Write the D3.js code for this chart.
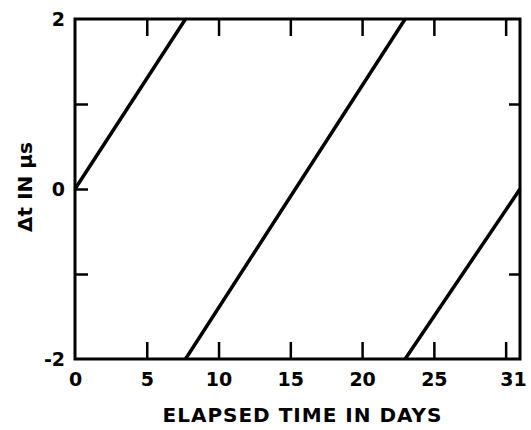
<!DOCTYPE html>
<html>
<head>
<meta charset="utf-8">
<script src="https://cdn.jsdelivr.net/npm/d3@7"></script>
<style>
  body { margin: 0; background: #fff; }
  text { font-family: "DejaVu Sans", sans-serif; font-weight: bold; fill: #000; }
</style>
</head>
<body>
<div id="chart"></div>
<script>
var w = 531;
var h = 430;

// data
var segDays = [[0, 7.7], [7.7, 23.0], [23.0, 31]];
var segDt = [[0, 2], [-2, 2], [-2, 0]];
var xTickMarks = [5, 10, 15, 20, 25, 30];
var xTickLabels = [0, 5, 10, 15, 20, 25, 31];
var yTickMarksLeft = [-1, 0, 1];
var yTickMarksRight = [-1, 1];
var yTickLabels = [-2, 0, 2];
var xTitle = "ELAPSED TIME IN DAYS";
var yTitle = "\u0394t IN \u03bcs";

var margin = {top: 19, right: 11, bottom: 71, left: 75},
    width = w - margin.left - margin.right,
    height = h - margin.top - margin.bottom;

var x = d3.scaleLinear().domain([0, 31]).range([0, width]);
var y = d3.scaleLinear().domain([-2, 2]).range([height, 0]);

var svg = d3.select("#chart")
    .append("svg")
    .attr("width", w)
    .attr("height", h)
    .append("g")
    .attr("transform", "translate(" + margin.left + "," + margin.top + ")");

// inward tick marks on all four sides
function ticksOnly(g) {
    g.select(".domain").remove();
    g.selectAll(".tick line").attr("stroke", "#000").attr("stroke-width", 2.5);
}

svg.append("g")
    .attr("transform", "translate(0," + height + ")")
    .call(d3.axisBottom(x).tickValues(xTickMarks).tickSizeInner(-17).tickSizeOuter(0).tickFormat(""))
    .call(ticksOnly);

svg.append("g")
    .call(d3.axisTop(x).tickValues(xTickMarks).tickSizeInner(-17).tickSizeOuter(0).tickFormat(""))
    .call(ticksOnly);

svg.append("g")
    .call(d3.axisLeft(y).tickValues(yTickMarksLeft).tickSizeInner(-13).tickSizeOuter(0).tickFormat(""))
    .call(ticksOnly);

svg.append("g")
    .attr("transform", "translate(" + width + ",0)")
    .call(d3.axisRight(y).tickValues(yTickMarksRight).tickSizeInner(-11).tickSizeOuter(0).tickFormat(""))
    .call(ticksOnly);

// tick labels
var xLab = svg.append("g")
    .attr("transform", "translate(0," + height + ")")
    .call(d3.axisBottom(x).tickValues(xTickLabels).tickSize(0).tickPadding(14).tickFormat(function(d) { return String(d); }));
xLab.select(".domain").remove();
xLab.selectAll("text").style("font-size", "19px").attr("font-family", null)
    .attr("dx", function(d) { return d === 31 ? -7 : 0; });

var yLab = svg.append("g")
    .call(d3.axisLeft(y).tickValues(yTickLabels).tickSize(0).tickPadding(10).tickFormat(function(d) { return String(d); }));
yLab.select(".domain").remove();
yLab.selectAll("text").style("font-size", "19px").attr("font-family", null);

// frame
svg.append("rect")
    .attr("width", width)
    .attr("height", height)
    .attr("fill", "none")
    .attr("stroke", "#000")
    .attr("stroke-width", 3);

// sawtooth segments
var line = d3.line()
    .x(function(d) { return x(d[0]); })
    .y(function(d) { return y(d[1]); });

var segs = segDays.map(function(dd, i) {
    return [[dd[0], segDt[i][0]], [dd[1], segDt[i][1]]];
});

svg.selectAll(".seg")
    .data(segs)
    .enter().append("path")
    .attr("class", "seg")
    .attr("d", line)
    .attr("fill", "none")
    .attr("stroke", "#000")
    .attr("stroke-width", 3.5);

// axis titles
svg.append("text")
    .attr("x", width / 2 + 5)
    .attr("y", height + 63)
    .attr("text-anchor", "middle")
    .style("font-size", "20px")
    .style("letter-spacing", "1px")
    .text(xTitle);

svg.append("text")
    .attr("transform", "translate(" + (-margin.left + 32) + "," + (y(0) - 2) + ") rotate(-90)")
    .attr("text-anchor", "middle")
    .style("font-size", "20px")
    .text(yTitle);
</script>
</body>
</html>
